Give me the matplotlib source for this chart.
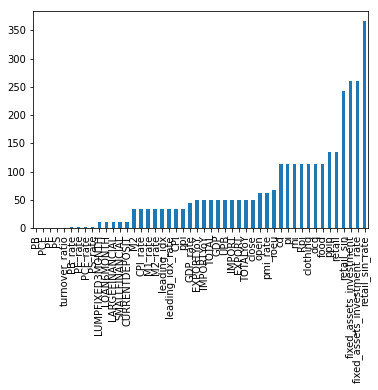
import matplotlib
matplotlib.use("Agg")
import matplotlib.pyplot as plt

labels = [
    "PB", "PCF", "PE", "PS", "turnover_ratio",
    "PB_rate", "PE_rate", "PCF_rate", "PS_rate",
    "LUMPFIXED3MONTH", "LOAN6MONTH", "LARGEFINANCIAL", "SMALLFINANCIAL", "CURRENTDEPOSIT",
    "M2", "CPI_rate", "M1_rate", "M2_rate", "leading_idx", "leading_idx_rate", "CPI", "ppi",
    "GDP_rate",
    "EXPORTYoY", "IMPORTYoY", "TOTAL", "GDP", "UPB", "IMPORT", "EXPORT", "TOTALYoY", "close",
    "open", "pmi_rate", "roeu",
    "cd", "pi", "mi", "Rpi", "clothing", "dcq", "food",
    "ppip", "retail", "retail_sin",
    "fixed_assets_investment", "fixed_assets_investment_rate", "retail_sin_rate",
]
values = [
    0, 0, 0, 0, 0,
    2, 2, 2, 2,
    11, 11, 11, 11, 11,
    34, 34, 34, 34, 34, 34, 34, 34,
    45,
    50, 50, 50, 50, 50, 50, 50, 50, 50,
    62, 62, 68,
    113, 113, 113, 113, 113, 113, 113,
    134, 134, 243,
    260, 260, 367,
]

W, H, DPI = 378, 390, 72
fig = plt.figure(figsize=(W / DPI, H / DPI), dpi=DPI)
ax = fig.add_axes([33 / W, 1 - 228 / H, 335 / W, (228 - 10.5) / H])

x = list(range(len(values)))
ax.bar(x, values, width=0.5, color="#1f77b4")
ax.set_xlim(-0.5, len(values) - 0.5)
ax.set_ylim(0, max(values) * 1.05)
ax.set_yticks([0, 50, 100, 150, 200, 250, 300, 350])
ax.set_xticks(x)
ax.set_xticklabels(labels, rotation=90, fontsize=10)
ax.tick_params(axis="y", labelsize=10)

fig.savefig("out.png", dpi=DPI, facecolor="white")
